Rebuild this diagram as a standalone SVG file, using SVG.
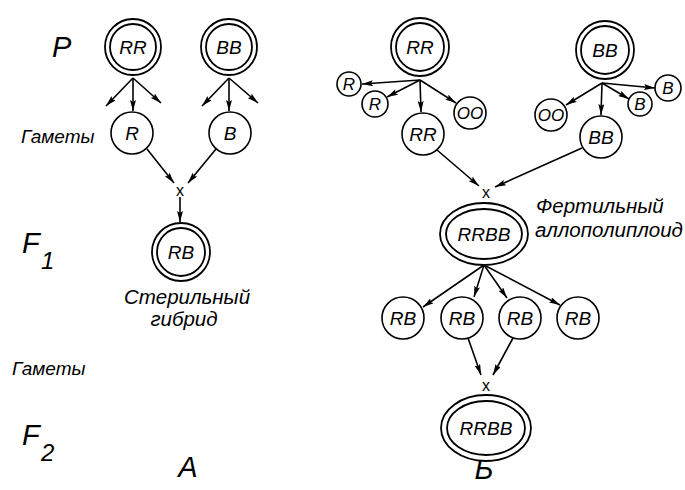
<svg xmlns="http://www.w3.org/2000/svg" width="685" height="490" viewBox="0 0 685 490">
  <defs>
    <marker id="arrow" viewBox="0 0 11 6" refX="11" refY="3" markerWidth="11" markerHeight="6" markerUnits="userSpaceOnUse" orient="auto">
      <path d="M0,0 L11,3 L0,6 L2,3 z" fill="#000"/>
    </marker>
  </defs>
  <style>
    text { font-family: "Liberation Sans", Arial, sans-serif; font-style: italic; fill: #000; }
    .ring { fill: #fff; stroke: #000; stroke-width: 1.8; }
    .cell { fill: #fff; stroke: #000; stroke-width: 1.6; }
    .lbl { font-size: 19px; text-anchor: middle; }
    .sm { font-size: 17px; text-anchor: middle; }
    .row { font-size: 29px; }
    .sub { font-size: 24px; }
    .gam { font-size: 19px; }
    .note { font-size: 20.5px; }
    .cross { font-size: 16px; font-style: normal; text-anchor: middle; }
    .edge { fill: none; stroke: #000; stroke-width: 1.6; marker-end: url(#arrow); }
  </style>
  <rect width="685" height="490" fill="#fff"/>

  <!-- row labels -->
  <g id="row-labels">
    <text class="row" x="52" y="57">P</text>
    <text class="gam" x="21" y="143">Гаметы</text>
    <text class="row" x="22" y="253">F</text>
    <text class="sub" x="41" y="269">1</text>
    <text class="gam" x="12" y="375">Гаметы</text>
    <text class="row" x="22" y="445">F</text>
    <text class="sub" x="41" y="461">2</text>
    <text class="row" x="188" y="477" text-anchor="middle">А</text>
    <text class="row" x="484" y="479" text-anchor="middle">Б</text>
  </g>

  <!-- connectors -->
  <g id="connectors">
    <!-- scheme A -->
    <path class="edge" d="M133,78 L106,106"/>
    <path class="edge" d="M133,78 L133,111"/>
    <path class="edge" d="M133,78 L161,103"/>
    <path class="edge" d="M229,78 L202,106"/>
    <path class="edge" d="M229,78 L229,111"/>
    <path class="edge" d="M229,78 L258,103"/>
    <path class="edge" d="M147,149 L174,183"/>
    <path class="edge" d="M216,149 L188,183"/>
    <path class="edge" d="M180,197 L180,222"/>
    <!-- scheme B -->
    <path class="edge" d="M420,80 L362,84"/>
    <path class="edge" d="M420,80 L387,97"/>
    <path class="edge" d="M420,80 L421,112"/>
    <path class="edge" d="M420,80 L456,103"/>
    <path class="edge" d="M602,83 L566,105"/>
    <path class="edge" d="M602,83 L601,115"/>
    <path class="edge" d="M602,83 L629,99"/>
    <path class="edge" d="M602,83 L655,88"/>
    <path class="edge" d="M437,150 L479,186"/>
    <path class="edge" d="M582,148 L495,187"/>
    <path class="edge" d="M484,265 L423,307"/>
    <path class="edge" d="M484,265 L474,297"/>
    <path class="edge" d="M484,265 L507,298"/>
    <path class="edge" d="M484,265 L560,305"/>
    <path class="edge" d="M468,338 L481,375"/>
    <path class="edge" d="M513,338 L493,375"/>
    <text class="cross" x="180" y="196">x</text>
    <text class="cross" x="486" y="198">x</text>
    <text class="cross" x="486" y="391">x</text>
  </g>

  <!-- scheme A nodes -->
  <g id="a-parent-rr">
    <circle class="ring" cx="133" cy="47" r="28"/>
    <circle class="ring" cx="133" cy="47" r="23"/>
    <text class="lbl" x="133" y="54">RR</text>
  </g>
  <g id="a-parent-bb">
    <circle class="ring" cx="229" cy="47" r="28"/>
    <circle class="ring" cx="229" cy="47" r="23"/>
    <text class="lbl" x="229" y="54">BB</text>
  </g>
  <g id="a-gamete-r">
    <circle class="cell" cx="132" cy="133" r="21"/>
    <text class="lbl" x="132" y="140">R</text>
  </g>
  <g id="a-gamete-b">
    <circle class="cell" cx="230" cy="133" r="21"/>
    <text class="lbl" x="230" y="140">B</text>
  </g>
  <g id="a-hybrid-rb">
    <circle class="ring" cx="181" cy="252" r="29"/>
    <circle class="ring" cx="181" cy="252" r="24"/>
    <text class="lbl" x="181" y="259">RB</text>
    <text class="note" x="187" y="304" text-anchor="middle">Стерильный</text>
    <text class="note" x="184" y="326" text-anchor="middle">гибрид</text>
  </g>

  <!-- scheme B nodes -->
  <g id="b-parent-rr">
    <circle class="ring" cx="420" cy="47" r="29"/>
    <circle class="ring" cx="420" cy="47" r="24"/>
    <text class="lbl" x="420" y="54">RR</text>
  </g>
  <g id="b-parent-bb">
    <circle class="ring" cx="605" cy="50" r="29"/>
    <circle class="ring" cx="605" cy="50" r="24"/>
    <text class="lbl" x="605" y="57">BB</text>
  </g>
  <g id="b-gamete-r1">
    <circle class="cell" cx="349" cy="84" r="12"/>
    <text class="sm" x="349" y="90">R</text>
  </g>
  <g id="b-gamete-r2">
    <circle class="cell" cx="375" cy="104" r="13"/>
    <text class="sm" x="375" y="110">R</text>
  </g>
  <g id="b-gamete-rr">
    <circle class="cell" cx="423" cy="134" r="21"/>
    <text class="lbl" x="423" y="141">RR</text>
  </g>
  <g id="b-gamete-oo1">
    <circle class="cell" cx="470" cy="113" r="16"/>
    <text class="sm" x="470" y="119">OO</text>
  </g>
  <g id="b-gamete-oo2">
    <circle class="cell" cx="551" cy="115" r="16"/>
    <text class="sm" x="551" y="121">OO</text>
  </g>
  <g id="b-gamete-bb">
    <circle class="cell" cx="601" cy="137" r="21"/>
    <text class="lbl" x="601" y="144">BB</text>
  </g>
  <g id="b-gamete-b1">
    <circle class="cell" cx="640" cy="104" r="12"/>
    <text class="sm" x="640" y="110">B</text>
  </g>
  <g id="b-gamete-b2">
    <circle class="cell" cx="668" cy="88" r="13"/>
    <text class="sm" x="668" y="94">B</text>
  </g>
  <g id="b-f1-rrbb">
    <ellipse class="ring" cx="484" cy="234" rx="44" ry="31"/>
    <ellipse class="ring" cx="484" cy="234" rx="38" ry="25"/>
    <text class="lbl" x="484" y="241">RRBB</text>
    <text class="note" x="536" y="213">Фертильный</text>
    <text class="note" x="535" y="237">аллополиплоид</text>
  </g>
  <g id="b-gamete-rb1">
    <circle class="cell" cx="403" cy="318" r="21"/>
    <text class="lbl" x="403" y="325">RB</text>
  </g>
  <g id="b-gamete-rb2">
    <circle class="cell" cx="462" cy="318" r="21"/>
    <text class="lbl" x="462" y="325">RB</text>
  </g>
  <g id="b-gamete-rb3">
    <circle class="cell" cx="520" cy="318" r="21"/>
    <text class="lbl" x="520" y="325">RB</text>
  </g>
  <g id="b-gamete-rb4">
    <circle class="cell" cx="578" cy="318" r="21"/>
    <text class="lbl" x="578" y="325">RB</text>
  </g>
  <g id="b-f2-rrbb">
    <ellipse class="ring" cx="486" cy="428" rx="45" ry="33"/>
    <ellipse class="ring" cx="486" cy="428" rx="39" ry="27"/>
    <text class="lbl" x="486" y="435">RRBB</text>
  </g>
</svg>
